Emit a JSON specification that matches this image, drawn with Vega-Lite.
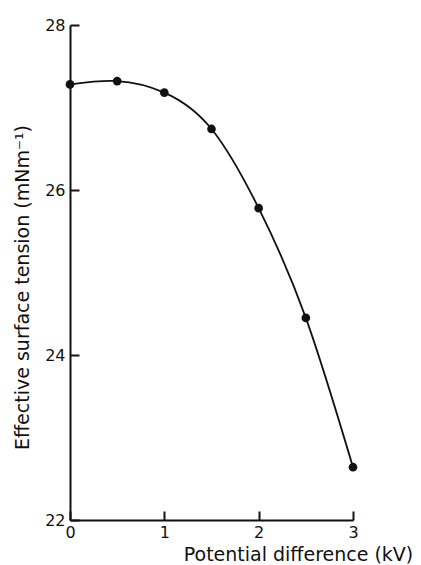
{
  "$schema": "https://vega.github.io/schema/vega-lite/v6.json",
  "width": 283,
  "height": 495,
  "autosize": {"type": "none"},
  "padding": {"left": 70, "top": 25, "right": 68, "bottom": 45},
  "background": "white",
  "config": {
    "view": {"stroke": null},
    "font": "DejaVu Sans",
    "axis": {
      "grid": false,
      "domainColor": "#111",
      "domainWidth": 2,
      "tickColor": "#111",
      "tickWidth": 2,
      "tickSize": -9,
      "labelFlush": false,
      "labelColor": "#111",
      "titleColor": "#111",
      "labelFont": "DejaVu Sans",
      "titleFont": "DejaVu Sans",
      "labelFontSize": 16,
      "titleFontSize": 19,
      "titleFontWeight": "normal"
    }
  },
  "data": {
    "values": [
      {"v": 0.0, "t": 27.28},
      {"v": 0.5, "t": 27.32},
      {"v": 1.0, "t": 27.18},
      {"v": 1.5, "t": 26.74},
      {"v": 2.0, "t": 25.78},
      {"v": 2.5, "t": 24.45},
      {"v": 3.0, "t": 22.64}
    ]
  },
  "encoding": {
    "x": {
      "field": "v", "type": "quantitative",
      "scale": {"domain": [0, 3], "nice": false, "zero": false},
      "axis": {"values": [0, 1, 2, 3], "title": "Potential difference (kV)", "labelPadding": 13, "titleX": 228, "titleY": 25}
    },
    "y": {
      "field": "t", "type": "quantitative",
      "scale": {"domain": [22, 28], "nice": false, "zero": false},
      "axis": {"values": [22, 24, 26, 28], "title": "Effective surface tension (mNm⁻¹)", "labelPadding": 14, "titleX": -38, "titleY": 262}
    }
  },
  "layer": [
    {"mark": {"type": "line", "interpolate": "natural", "color": "#111", "strokeWidth": 1.8}},
    {"mark": {"type": "point", "filled": true, "color": "#111", "opacity": 1, "size": 75}}
  ]
}
